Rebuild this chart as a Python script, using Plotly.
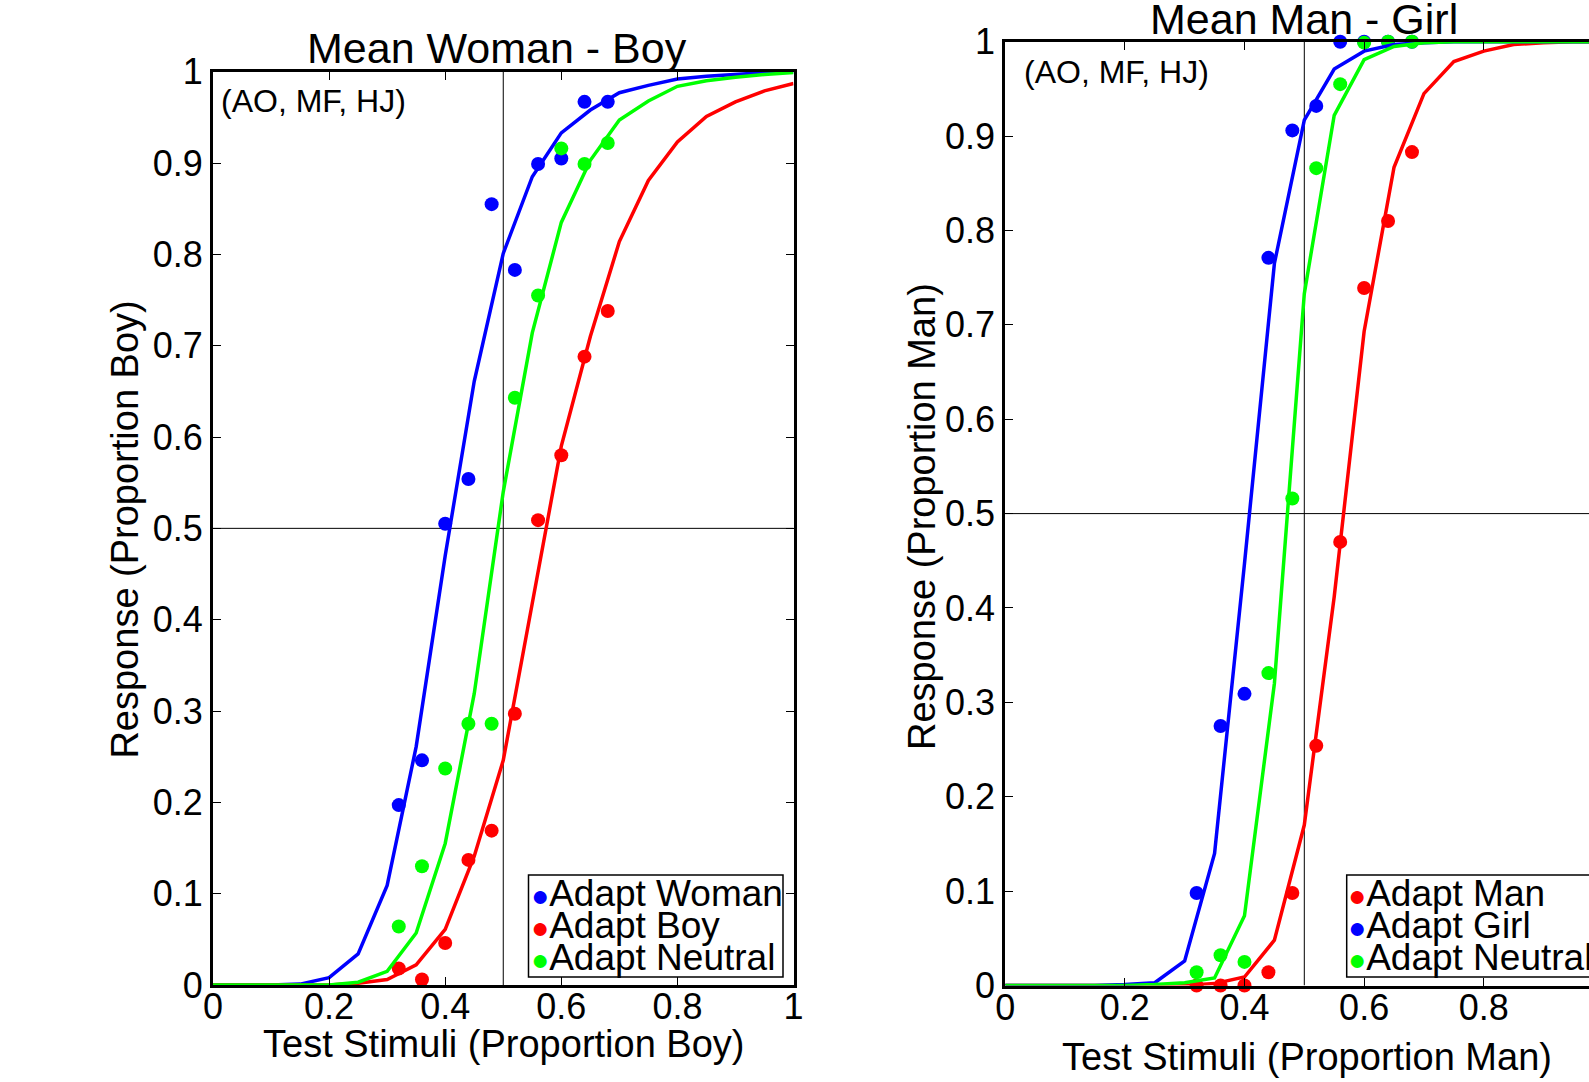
import plotly.graph_objects as go

# ---------------- data ----------------
stimuli = [0.32, 0.36, 0.40, 0.44, 0.48, 0.52, 0.56, 0.60, 0.64, 0.68]
fit_x = [0.00, 0.05, 0.10, 0.15, 0.20, 0.25, 0.30, 0.35, 0.40, 0.45, 0.50,
         0.55, 0.60, 0.65, 0.70, 0.75, 0.80, 0.85, 0.90, 0.95, 1.00]

# Left panel: Mean Woman - Boy
wb_woman_pts = [0.197, 0.246, 0.505, 0.554, 0.855, 0.783, 0.899, 0.905, 0.967, 0.967]
wb_boy_pts = [0.018, 0.006, 0.046, 0.137, 0.169, 0.297, 0.509, 0.580, 0.688, 0.738]
wb_neutral_pts = [0.064, 0.130, 0.237, 0.286, 0.286, 0.643, 0.755, 0.916, 0.899, 0.922]
wb_woman_fit = [0.000, 0.000, 0.000, 0.001, 0.008, 0.034, 0.109, 0.261, 0.470, 0.661, 0.801,
                0.885, 0.933, 0.958, 0.977, 0.985, 0.992, 0.995, 0.997, 0.999, 1.000]
wb_boy_fit = [0.000, 0.000, 0.000, 0.000, 0.000, 0.002, 0.006, 0.022, 0.061, 0.141, 0.246,
              0.418, 0.590, 0.710, 0.814, 0.881, 0.923, 0.951, 0.967, 0.979, 0.987]
wb_neutral_fit = [0.000, 0.000, 0.000, 0.000, 0.000, 0.003, 0.015, 0.057, 0.155, 0.319, 0.540,
                  0.714, 0.835, 0.903, 0.947, 0.968, 0.984, 0.990, 0.994, 0.997, 0.999]

# Right panel: Mean Man - Girl
mg_man_pts = [0.000, 0.000, 0.000, 0.014, 0.098, 0.254, 0.470, 0.739, 0.810, 0.883]
mg_girl_pts = [0.098, 0.275, 0.309, 0.771, 0.906, 0.932, 1.000, 1.000, 1.000, 1.000]
mg_neutral_pts = [0.014, 0.032, 0.025, 0.331, 0.516, 0.866, 0.955, 0.999, 1.000, 1.000]
mg_man_fit = [0.000, 0.000, 0.000, 0.000, 0.000, 0.000, 0.000, 0.002, 0.009, 0.048, 0.170,
              0.412, 0.693, 0.867, 0.945, 0.979, 0.990, 0.997, 0.999, 1.000, 1.000]
mg_girl_fit = [0.000, 0.000, 0.000, 0.000, 0.001, 0.003, 0.026, 0.140, 0.447, 0.765, 0.917,
               0.971, 0.990, 0.997, 0.999, 1.000, 1.000, 1.000, 1.000, 1.000, 1.000]
mg_neutral_fit = [0.000, 0.000, 0.000, 0.000, 0.000, 0.001, 0.003, 0.008, 0.074, 0.320, 0.733,
                  0.922, 0.981, 0.995, 0.999, 1.000, 1.000, 1.000, 1.000, 1.000, 1.000]

y_ticks = [0, 0.1, 0.2, 0.3, 0.4, 0.5, 0.6, 0.7, 0.8, 0.9, 1]
y_tick_text = ["0", "0.1", "0.2", "0.3", "0.4", "0.5", "0.6", "0.7", "0.8", "0.9", "1"]
x_ticks = [0, 0.2, 0.4, 0.6, 0.8, 1]
x_tick_text = ["0", "0.2", "0.4", "0.6", "0.8", "1"]

BLUE, RED, GREEN = "#0000FF", "#FF0000", "#00FF00"
FONT = "Liberation Sans, Arial, sans-serif"

W, H = 1589, 1082


def px(x):
    return x / W


def py(y):
    return 1 - y / H


fig = go.Figure()

left_series = [("Adapt Woman", wb_woman_pts, wb_woman_fit, BLUE),
               ("Adapt Boy", wb_boy_pts, wb_boy_fit, RED),
               ("Adapt Neutral", wb_neutral_pts, wb_neutral_fit, GREEN)]
right_series = [("Adapt Man", mg_man_pts, mg_man_fit, RED),
                ("Adapt Girl", mg_girl_pts, mg_girl_fit, BLUE),
                ("Adapt Neutral", mg_neutral_pts, mg_neutral_fit, GREEN)]

for series, xa, ya in [(left_series, "x", "y"), (right_series, "x2", "y2")]:
    for name, pts, fit, col in series:
        fig.add_trace(go.Scatter(x=stimuli, y=pts, mode="markers", name=name,
                                 marker=dict(color=col, size=14, symbol="circle"),
                                 cliponaxis=False, showlegend=False, xaxis=xa, yaxis=ya))
    for name, pts, fit, col in series:
        fig.add_trace(go.Scatter(x=fit_x, y=fit, mode="lines", name=name + " fit",
                                 line=dict(color=col, width=3.5),
                                 showlegend=False, xaxis=xa, yaxis=ya))

axis_common = dict(showgrid=False, zeroline=False, showline=True, linecolor="black",
                   linewidth=3, ticks="inside", ticklen=8, tickcolor="black",
                   automargin=False,
                   tickfont=dict(family=FONT, size=36, color="black"))

fig.update_layout(
    width=W, height=H, autosize=False,
    margin=dict(l=0, r=0, t=0, b=0, pad=0),
    paper_bgcolor="white", plot_bgcolor="white",
    font=dict(family=FONT, color="black"),
    xaxis=dict(domain=[px(213), px(793.5)], range=[0, 1], anchor="y", mirror="ticks",
               tickvals=x_ticks, ticktext=x_tick_text, ticklabelstandoff=-12, **axis_common),
    yaxis=dict(domain=[1 - 985 / H, 1 - 71.7 / H], range=[0, 1], anchor="x", mirror="ticks",
               tickvals=y_ticks, ticktext=y_tick_text, **axis_common),
    xaxis2=dict(domain=[px(1005.2), 1.0], range=[0, (W - 1005.2) / 598.2], anchor="y2",
                mirror="ticks", tickvals=x_ticks, ticktext=x_tick_text,
                ticklabelstandoff=-12, **axis_common),
    yaxis2=dict(domain=[1 - 985.5 / H, 1 - 41.7 / H], range=[0, 1], anchor="x2", mirror=False,
                tickvals=y_ticks, ticktext=y_tick_text, **axis_common),
)

# reference lines at 0.5
for xr, yr in [("x", "y"), ("x2", "y2")]:
    fig.add_shape(type="line", xref=xr, yref=yr, x0=0.5, x1=0.5, y0=0, y1=1,
                  line=dict(color="black", width=1), layer="below")
    fig.add_shape(type="line", xref=xr + " domain", yref=yr, x0=0, x1=1, y0=0.5, y1=0.5,
                  line=dict(color="black", width=1), layer="below")

anns = []


def ann(text, x, y, size, xanchor="center", yanchor="middle", angle=0):
    anns.append(dict(text=text, x=px(x), y=py(y), xref="paper", yref="paper",
                     xanchor=xanchor, yanchor=yanchor, showarrow=False, textangle=angle,
                     font=dict(family=FONT, size=size, color="black")))


# titles
ann("Mean Woman - Boy", 496.6, 48, 43)
ann("Mean Man - Girl", 1304, 19, 43)
# axis titles
ann("Test Stimuli (Proportion Boy)", 503.6, 1044, 38)
ann("Test Stimuli (Proportion Man)", 1307, 1057, 38)
ann("Response (Proportion Boy)", 124.6, 530, 38, angle=-90)
ann("Response (Proportion Man)", 922, 517, 38, angle=-90)
# subject labels
ann("(AO, MF, HJ)", 219, 101, 32, xanchor="left")
ann("(AO, MF, HJ)", 1021.5, 72, 32, xanchor="left")

# legends (boxes + entries)
fig.add_shape(type="rect", xref="paper", yref="paper", x0=px(528.5), x1=px(783),
              y0=py(977), y1=py(875), line=dict(color="black", width=1.5),
              fillcolor="white", layer="above")
fig.add_shape(type="rect", xref="paper", yref="paper", x0=px(1346.7), x1=px(1640),
              y0=py(977), y1=py(875), line=dict(color="black", width=1.5),
              fillcolor="white", layer="above")

row_y = [893, 925, 957]
for (name, _, _, col), yy in zip(left_series, row_y):
    ann(f'<span style="color:{col};font-size:30px">●</span>{name}', 529, yy, 37,
        xanchor="left")
for (name, _, _, col), yy in zip(right_series, row_y):
    ann(f'<span style="color:{col};font-size:30px">●</span>{name}', 1346, yy, 37,
        xanchor="left")

fig.update_layout(annotations=anns)

fig.write_html("out.html",
               config={"displayModeBar": False},
               post_script="document.body.style.margin='0px';"
                           "document.body.style.overflow='hidden';")
